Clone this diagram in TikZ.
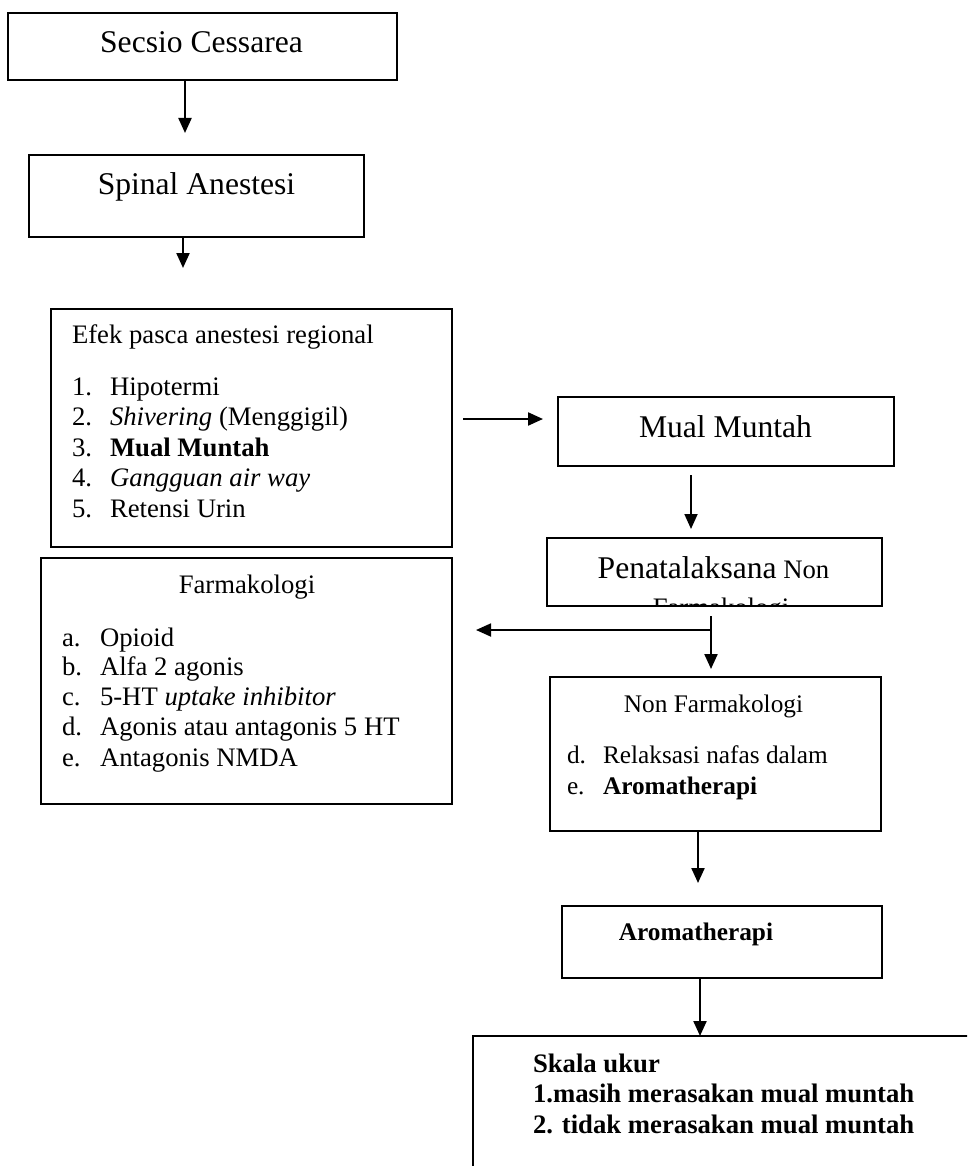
\documentclass[tikz,border=0pt]{standalone}
\usepackage{fontspec}
\setmainfont{Liberation Serif}
\usetikzlibrary{arrows.meta,calc}
\newcommand{\bigf}{\fontsize{31.6}{36}\selectfont}
\newcommand{\smf}{\fontsize{26.7}{30.5}\selectfont}
\newcommand{\smg}{\fontsize{25.3}{30}\selectfont}
\begin{document}
\begin{tikzpicture}[x=1pt,y=-1pt,
  box/.style={draw=black, line width=2.6pt, inner sep=0pt, outer sep=0pt, anchor=center},
  arr/.style={line width=2.2pt, -{Triangle[length=15pt,width=13pt]}},
  thinarr/.style={line width=1.8pt, -{Triangle[length=15pt,width=13pt]}},
  txt/.style={inner sep=0pt, outer sep=0pt, anchor=base},
  txtl/.style={inner sep=0pt, outer sep=0pt, anchor=base west}]
\useasboundingbox (0,0) rectangle (967,1166);
\clip (0,0) rectangle (967,1166);
\fill[white] (0,0) rectangle (967,1166);

% boxes
\node[box, minimum width=389pt, minimum height=67pt] (secsio) at (202.5,46.5) {};
\node[box, minimum width=335pt, minimum height=82pt] (spinal) at (196.5,196) {};
\node[box, minimum width=401pt, minimum height=238pt] (efek) at (251.5,428) {};
\node[box, minimum width=336pt, minimum height=69pt] (mual) at (726,431.5) {};
\node[box, minimum width=335pt, minimum height=68pt] (pena) at (714.5,572) {};
\node[box, minimum width=411pt, minimum height=246pt] (farm) at (246.5,681) {};
\node[box, minimum width=331pt, minimum height=154pt] (nonfarm) at (715.5,754) {};
\node[box, minimum width=320pt, minimum height=72pt] (aroma) at (722,942) {};
\node[box, minimum width=547pt, minimum height=184pt] (skala) at (746.5,1128) {};

% texts
\node[txt] (secsio-t) at (201.5,53) {\bigf Secsio Cessarea};
\node[txt] (spinal-t) at (196.5,195) {\bigf Spinal Anestesi};

\node[txtl] (efek-t) at (72,343) {\smf Efek pasca anestesi regional};
\node[txtl] (efek-n1) at (72,395) {\smf 1.};
\node[txtl] (efek-i1) at (110,395) {\smf Hipotermi};
\node[txtl] (efek-n2) at (72,425.5) {\smf 2.};
\node[txtl] (efek-i2) at (110,425.5) {\smf \textit{Shivering} (Menggigil)};
\node[txtl] (efek-n3) at (72,456) {\smf 3.};
\node[txtl] (efek-i3) at (110,456) {\smf \textbf{Mual Muntah}};
\node[txtl] (efek-n4) at (72,486.5) {\smf 4.};
\node[txtl] (efek-i4) at (110,486.5) {\smf \textit{Gangguan air way}};
\node[txtl] (efek-n5) at (72,517) {\smf 5.};
\node[txtl] (efek-i5) at (110,517) {\smf Retensi Urin};

\node[txt] (mual-t) at (725.5,437) {\bigf Mual Muntah};

\node[txt] (pena-t) at (713.5,578) {{\bigf Penatalaksana}\smf\ Non};
\begin{scope}
  \clip ([xshift=1.3pt,yshift=-1.3pt]pena.north west) rectangle ([xshift=-1.3pt,yshift=1.3pt]pena.south east);
  \node[txt] (pena-t2) at (721,616.5) {\smf Farmakologi};
\end{scope}

\node[txt] (farm-t) at (247,593) {\smf Farmakologi};
\node[txtl] (farm-na) at (62,646) {\smf a.};
\node[txtl] (farm-ia) at (100,646) {\smf Opioid};
\node[txtl] (farm-nb) at (62,675.5) {\smf b.};
\node[txtl] (farm-ib) at (100,675.5) {\smf Alfa 2 agonis};
\node[txtl] (farm-nc) at (62,705) {\smf c.};
\node[txtl] (farm-ic) at (100,705) {\smf 5-HT \textit{uptake inhibitor}};
\node[txtl] (farm-nd) at (62,735.5) {\smf d.};
\node[txtl] (farm-id) at (100,735.5) {\smf Agonis atau antagonis 5 HT};
\node[txtl] (farm-ne) at (62,766) {\smf e.};
\node[txtl] (farm-ie) at (100,766) {\smf Antagonis NMDA};

\node[txt] (nonfarm-t) at (713.5,712) {\smg Non Farmakologi};
\node[txtl] (nonfarm-nd) at (567,763) {\smg d.};
\node[txtl] (nonfarm-id) at (603,763) {\smg Relaksasi nafas dalam};
\node[txtl] (nonfarm-ne) at (567,794) {\smg e.};
\node[txtl] (nonfarm-ie) at (603,794) {\smg \textbf{Aromatherapi}};

\node[txt] (aroma-t) at (696,940) {\smg \textbf{Aromatherapi}};

\node[txtl] (skala-t1) at (533,1072) {\smf \textbf{Skala ukur}};
\node[txtl] (skala-t2) at (533,1102) {\smf \textbf{1.masih merasakan mual muntah}};
\node[txtl] (skala-t3) at (533,1133) {\smf \textbf{2. tidak merasakan mual muntah}};

% connectors
\coordinate (a1s) at ([xshift=-17.5pt]secsio.south);
\coordinate (a1e) at ([yshift=22pt]spinal.north);
\draw[arr] (a1s) -- (a1s |- a1e);

\coordinate (a2s) at ([xshift=-13.5pt]spinal.south);
\coordinate (a2e) at ([yshift=41pt]efek.north);
\draw[arr] (a2s) -- (a2s |- a2e);

\coordinate (a3s) at ([xshift=11pt,yshift=9pt]efek.east);
\coordinate (a3e) at ([xshift=-15pt]mual.west);
\draw[arr] (a3s) -- (a3s -| a3e);

\coordinate (a4s) at ([xshift=-35pt,yshift=-9pt]mual.south);
\coordinate (a4e) at ([yshift=9pt]pena.north);
\draw[thinarr] (a4s) -- (a4s |- a4e);

\coordinate (a5s) at ([xshift=-3.5pt,yshift=-10pt]pena.south);
\coordinate (a5e) at ([yshift=8pt]nonfarm.north);
\draw[arr] (a5s) -- (a5s |- a5e);

\coordinate (br) at ([xshift=-3.5pt,yshift=-24pt]pena.south);
\coordinate (a6e) at ([xshift=24pt]farm.east);
\draw[thinarr] (br) -- (br -| a6e);

\coordinate (a7s) at ([xshift=-17.5pt]nonfarm.south);
\coordinate (a7e) at ([yshift=23pt]aroma.north);
\draw[arr] (a7s) -- (a7s |- a7e);

\coordinate (a8s) at ([xshift=-22pt]aroma.south);
\draw[arr] (a8s) -- (a8s |- skala.north);
\end{tikzpicture}
\end{document}
